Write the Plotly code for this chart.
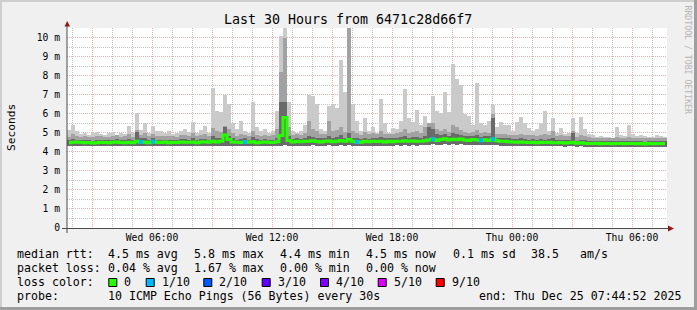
import plotly.graph_objects as go
import pandas as pd

# ---------------- data ----------------
start = pd.Timestamp("2025-12-24 01:44:52")
end = pd.Timestamp("2025-12-25 07:44:52")
step = pd.Timedelta(minutes=12)   # one column every 12 minutes

median_ms = [
    4.48, 4.50, 4.52, 4.50, 4.47, 4.49, 4.46, 4.48, 4.50, 4.49,
    4.47, 4.50, 4.52, 4.49, 4.48, 4.50, 4.47, 4.55, 4.52, 4.50,
    4.48, 4.53, 4.50, 4.49, 4.51, 4.48, 4.50, 4.49, 4.52, 4.50,
    4.50, 4.52, 4.48, 4.51, 4.53, 4.50, 4.55, 4.52, 4.55, 4.88,
    4.65, 4.52, 4.50, 4.49, 4.51, 4.50, 4.53, 4.48, 4.50, 4.52,
    4.50, 4.49, 4.53, 4.85, 5.80, 4.60, 4.52, 4.55, 4.53, 4.56,
    4.55, 4.58, 4.54, 4.52, 4.55, 4.57, 4.53, 4.55, 4.60, 4.55,
    4.65, 4.56, 4.52, 4.50, 4.55, 4.53, 4.56, 4.54, 4.55, 4.52,
    4.55, 4.53, 4.56, 4.55, 4.58, 4.55, 4.57, 4.55, 4.56, 4.58,
    4.62, 4.66, 4.60, 4.64, 4.68, 4.62, 4.66, 4.63, 4.67, 4.62,
    4.60, 4.65, 4.62, 4.60, 4.63, 4.60, 4.66, 4.58, 4.55, 4.56,
    4.53, 4.52, 4.50, 4.52, 4.50, 4.49, 4.50, 4.48, 4.50, 4.49,
    4.50, 4.48, 4.47, 4.49, 4.46, 4.47, 4.50, 4.45, 4.47, 4.45,
    4.44, 4.43, 4.45, 4.42, 4.44, 4.43, 4.42, 4.44, 4.43, 4.42,
    4.43, 4.44, 4.42, 4.43, 4.41, 4.43, 4.42, 4.44, 4.42, 4.43,
]

rtt_min = [
    4.30, 4.31, 4.29, 4.30, 4.28, 4.30, 4.29, 4.30, 4.31, 4.30,
    4.29, 4.30, 4.31, 4.30, 4.29, 4.30, 4.28, 4.30, 4.31, 4.30,
    4.30, 4.31, 4.29, 4.30, 4.30, 4.29, 4.30, 4.28, 4.30, 4.31,
    4.30, 4.31, 4.30, 4.29, 4.31, 4.30, 4.30, 4.32, 4.31, 4.33,
    4.31, 4.30, 4.29, 4.30, 4.31, 4.30, 4.30, 4.29, 4.30, 4.31,
    4.30, 4.29, 4.31, 4.33, 4.36, 4.32, 4.31, 4.30, 4.32, 4.31,
    4.33, 4.34, 4.32, 4.33, 4.32, 4.34, 4.33, 4.32, 4.34, 4.33,
    4.35, 4.33, 4.32, 4.31, 4.33, 4.32, 4.33, 4.32, 4.33, 4.31,
    4.33, 4.32, 4.34, 4.33, 4.35, 4.33, 4.34, 4.33, 4.34, 4.35,
    4.38, 4.40, 4.37, 4.38, 4.40, 4.37, 4.39, 4.38, 4.39, 4.37,
    4.36, 4.38, 4.37, 4.36, 4.37, 4.35, 4.38, 4.34, 4.33, 4.33,
    4.32, 4.31, 4.30, 4.31, 4.30, 4.29, 4.30, 4.29, 4.30, 4.29,
    4.30, 4.29, 4.28, 4.29, 4.27, 4.28, 4.29, 4.27, 4.28, 4.27,
    4.27, 4.26, 4.27, 4.26, 4.27, 4.26, 4.25, 4.26, 4.26, 4.25,
    4.26, 4.27, 4.25, 4.26, 4.25, 4.26, 4.25, 4.26, 4.25, 4.26,
]

rtt_p60 = [
    4.62, 4.68, 4.62, 4.60, 4.60, 4.62, 4.58, 4.63, 4.62, 4.60,
    4.60, 4.63, 4.65, 4.60, 4.60, 4.68, 4.60, 5.05, 4.70, 4.75,
    4.60, 4.70, 4.62, 4.62, 4.64, 4.60, 4.62, 4.60, 4.65, 4.66,
    4.63, 4.70, 4.60, 4.65, 4.68, 4.62, 4.85, 4.75, 4.72, 5.30,
    4.85, 4.70, 4.63, 4.65, 4.70, 4.62, 4.80, 4.65, 4.62, 4.66,
    4.62, 4.64, 4.70, 6.60, 6.60, 4.85, 4.68, 4.70, 4.66, 4.75,
    4.85, 4.80, 4.75, 4.70, 4.72, 4.85, 4.75, 4.78, 4.90, 4.75,
    5.00, 4.75, 4.70, 4.66, 4.74, 4.68, 4.72, 4.70, 4.80, 4.70,
    4.72, 4.70, 4.75, 4.78, 4.85, 4.75, 4.78, 4.80, 4.75, 4.85,
    5.30, 5.20, 4.95, 4.90, 4.95, 4.85, 5.00, 4.95, 4.90, 4.85,
    4.82, 4.85, 4.90, 4.80, 4.85, 4.82, 5.80, 4.75, 4.72, 4.74,
    4.70, 4.68, 4.66, 4.70, 4.65, 4.64, 4.65, 4.62, 4.66, 4.63,
    4.65, 4.70, 4.60, 4.64, 4.60, 4.62, 5.00, 4.58, 4.62, 4.60,
    4.58, 4.56, 4.58, 4.55, 4.57, 4.56, 4.55, 4.57, 4.56, 4.55,
    4.56, 4.57, 4.55, 4.56, 4.54, 4.56, 4.55, 4.57, 4.55, 4.56,
]

rtt_p80 = [
    4.80, 4.95, 4.85, 4.80, 4.82, 4.80, 4.78, 4.85, 4.82, 4.80,
    4.80, 4.85, 4.88, 4.80, 4.82, 4.95, 4.80, 5.15, 4.90, 5.00,
    4.82, 4.95, 4.85, 4.83, 4.85, 4.82, 4.84, 4.80, 4.86, 4.90,
    4.85, 5.00, 4.82, 4.90, 4.95, 4.85, 5.25, 5.10, 5.05, 5.35,
    5.20, 5.00, 4.85, 4.95, 4.90, 4.85, 5.10, 4.90, 4.85, 4.90,
    4.85, 4.88, 5.20, 8.20, 10.00, 5.30, 4.90, 4.92, 4.90, 5.00,
    5.60, 5.20, 5.10, 4.95, 4.95, 5.60, 5.10, 5.15, 5.30, 5.05,
    10.60, 5.10, 5.00, 4.90, 5.05, 4.95, 5.00, 4.92, 5.10, 4.95,
    4.95, 4.92, 5.00, 5.05, 5.20, 5.00, 5.05, 5.10, 5.00, 5.30,
    5.50, 5.50, 5.20, 5.10, 5.20, 5.05, 5.40, 5.30, 5.15, 5.05,
    5.00, 5.05, 5.15, 5.00, 5.05, 5.00, 6.00, 4.95, 4.92, 4.95,
    4.90, 4.88, 4.90, 4.95, 4.88, 4.86, 4.88, 4.85, 4.90, 4.95,
    4.88, 5.10, 4.85, 4.90, 4.82, 4.85, 5.10, 4.80, 4.88, 4.82,
    4.78, 4.75, 4.72, 4.74, 4.72, 4.70, 4.70, 4.80, 4.72, 4.70,
    4.78, 4.72, 4.70, 4.72, 4.70, 4.72, 4.70, 4.74, 4.70, 4.72,
]

rtt_max = [
    5.15, 5.40, 5.10, 4.95, 5.00, 4.90, 5.00, 5.05, 4.95, 4.90,
    5.00, 5.05, 4.90, 5.00, 4.95, 5.35, 5.00, 6.05, 5.15, 5.50,
    5.00, 5.35, 5.10, 5.10, 5.00, 5.10, 4.95, 5.00, 5.10, 5.20,
    5.05, 5.55, 5.00, 5.15, 5.35, 5.00, 7.35, 6.15, 6.10, 7.00,
    6.50, 5.50, 5.20, 5.60, 5.10, 5.00, 6.60, 5.30, 5.10, 5.20,
    5.00, 5.10, 6.15, 10.10, 10.60, 6.60, 5.10, 5.00, 5.10, 5.40,
    7.00, 6.95, 6.50, 5.20, 5.10, 6.40, 6.50, 6.30, 8.80, 7.15,
    10.60, 6.50, 5.60, 5.10, 5.75, 5.10, 5.30, 5.00, 6.75, 5.50,
    5.00, 5.25, 5.20, 5.60, 7.30, 5.80, 5.55, 6.20, 5.40, 5.90,
    5.35, 6.95, 6.15, 6.05, 7.15, 6.10, 8.60, 7.80, 7.50, 6.00,
    5.90, 5.40, 7.60, 5.50, 5.40, 5.60, 6.45, 5.30, 5.55, 5.40,
    5.40, 5.10, 5.55, 5.85, 5.50, 5.25, 5.10, 5.20, 5.50, 6.15,
    5.10, 5.75, 5.00, 5.25, 4.95, 5.00, 5.75, 5.00, 5.85, 5.20,
    4.95, 4.90, 4.80, 4.85, 4.80, 4.80, 4.75, 5.30, 4.90, 4.85,
    5.40, 4.95, 4.85, 4.90, 4.85, 4.80, 4.80, 4.90, 4.85, 4.80,
]

# columns where the median carried 1/10 packet loss
loss_cols = [18, 21, 44, 72, 91, 103, 106]

y_ticks = [0, 1, 2, 3, 4, 5, 6, 7, 8, 9, 10]
y_tick_text = ["0", "1 m", "2 m", "3 m", "4 m", "5 m", "6 m", "7 m", "8 m", "9 m", "10 m"]
y_minor_ticks = [0.5, 1.5, 2.5, 3.5, 4.5, 5.5, 6.5, 7.5, 8.5, 9.5, 10.5]
x_tick_times = ["2025-12-24 03:00", "2025-12-24 06:00", "2025-12-24 09:00", "2025-12-24 12:00",
                "2025-12-24 15:00", "2025-12-24 18:00", "2025-12-24 21:00", "2025-12-25 00:00",
                "2025-12-25 03:00", "2025-12-25 06:00"]
x_tick_text = ["", "Wed 06:00", "", "Wed 12:00", "", "Wed 18:00", "", "Thu 00:00", "", "Thu 06:00"]

loss_labels = ["0", "1/10", "2/10", "3/10", "4/10", "5/10", "9/10"]
loss_colors = ["#26ff00", "#00b8ff", "#0059ff", "#5e00ff", "#7e00ff", "#dd00ff", "#ff0000"]

rtt_stats = ["4.5 ms avg", "5.8 ms max", "4.4 ms min", "4.5 ms now", "0.1 ms sd", "38.5", "am/s"]
loss_stats = ["0.04 % avg", "1.67 % max", "0.00 % min", "0.00 % now"]
probe_text = "10 ICMP Echo Pings (56 Bytes) every 30s"
end_text = "end: Thu Dec 25 07:44:52 2025"
title_text = "Last 30 Hours from 6471c28d66f7"

# ---------------- layout helpers ----------------
W, H = 697, 310
PL, PR, PT, PB = 67, 667, 28, 228   # plot area in pixels
MONO = "DejaVu Sans Mono"


def px(x):
    return (x - PL) / (PR - PL)


def py(y):
    return (PB - y) / (PB - PT)


n = len(median_ms)
col_start = pd.date_range(start, periods=n, freq=step)
centers = col_start + step / 2
width_ms = step.total_seconds() * 1000 * 1.02

# hourly minor grid positions (those not already on the 3-hour major grid)
hours = pd.date_range("2025-12-24 02:00", "2025-12-25 07:00", freq="1h")
x_minor_ticks = [h for h in hours if h.hour % 3 != 0]

fig = go.Figure()


def smoke(top, color):
    fig.add_trace(go.Bar(
        x=centers, y=[t - b for t, b in zip(top, rtt_min)], base=rtt_min,
        width=width_ms, marker=dict(color=color, line=dict(width=0)),
        hoverinfo="skip", showlegend=False))


smoke(rtt_max, "#cacaca")
smoke(rtt_p80, "#a2a2a2")
smoke(rtt_p60, "#6a6a6a")

fig.add_trace(go.Scatter(
    x=centers, y=median_ms, mode="lines", line=dict(color="#26ff00", width=3, shape="hvh"),
    hoverinfo="skip", showlegend=False))
fig.add_trace(go.Scatter(
    x=[centers[i] for i in loss_cols], y=[median_ms[i] for i in loss_cols], mode="markers",
    marker=dict(symbol="square", size=4, color="#00b8ff", line=dict(width=0)),
    hoverinfo="skip", showlegend=False))

grid_major = "rgba(222,80,80,0.45)"
grid_minor = "rgba(143,143,143,0.55)"
tickfont = dict(family=MONO, size=9.7, color="#000")

fig.update_layout(
    width=W, height=H,
    margin=dict(l=PL, r=W - PR, t=PT, b=H - PB, pad=0),
    paper_bgcolor="#f0f0f0", plot_bgcolor="#ffffff",
    barmode="overlay", bargap=0, showlegend=False,
    font=dict(family=MONO, color="#000000"),
    xaxis=dict(
        type="date", range=[start, end], tickvals=x_tick_times, ticktext=x_tick_text,
        showgrid=True, gridcolor=grid_major, griddash="1px,1px", gridwidth=1,
        zeroline=False, showline=False, ticks="", tickfont=tickfont, ticklabelstandoff=2,
    ),
    xaxis2=dict(
        type="date", range=[start, end], overlaying="x", anchor="y", side="bottom",
        tickvals=x_minor_ticks, showticklabels=False, ticks="",
        showgrid=True, gridcolor=grid_minor, griddash="1px,1px", gridwidth=1,
        zeroline=False, showline=False,
    ),
    yaxis=dict(
        range=[0, 10.5], tickvals=y_ticks, ticktext=y_tick_text,
        showgrid=True, gridcolor=grid_major, griddash="1px,1px", gridwidth=1,
        zeroline=False, showline=False, ticks="", tickfont=tickfont, ticklabelstandoff=6,
    ),
    yaxis2=dict(
        range=[0, 10.5], overlaying="y", anchor="x", side="left",
        tickvals=y_minor_ticks, showticklabels=False, ticks="",
        showgrid=True, gridcolor=grid_minor, griddash="1px,1px", gridwidth=1,
        zeroline=False, showline=False,
    ),
)
# an invisible trace so the minor-grid axes are laid out
fig.add_trace(go.Scatter(x=[start], y=[0], xaxis="x2", yaxis="y2", mode="markers",
                         marker=dict(opacity=0), hoverinfo="skip", showlegend=False))

shapes = []
# bevelled frame
shapes.append(dict(type="rect", xref="paper", yref="paper", x0=px(0), x1=px(W), y0=py(0), y1=py(2),
                   fillcolor="#cfcfcf", line=dict(width=0)))
shapes.append(dict(type="rect", xref="paper", yref="paper", x0=px(0), x1=px(2), y0=py(0), y1=py(H),
                   fillcolor="#cfcfcf", line=dict(width=0)))
shapes.append(dict(type="rect", xref="paper", yref="paper", x0=px(0), x1=px(W), y0=py(H - 3), y1=py(H),
                   fillcolor="#9e9e9e", line=dict(width=0)))
shapes.append(dict(type="rect", xref="paper", yref="paper", x0=px(W - 3), x1=px(W), y0=py(0), y1=py(H),
                   fillcolor="#9e9e9e", line=dict(width=0)))
# axis lines
axis_col = "#4a4a4a"
shapes.append(dict(type="line", xref="paper", yref="paper", x0=px(62), x1=px(668), y0=py(228.5), y1=py(228.5),
                   line=dict(color=axis_col, width=1), layer="above"))
shapes.append(dict(type="line", xref="paper", yref="paper", x0=px(67), x1=px(67), y0=py(233), y1=py(24),
                   line=dict(color=axis_col, width=1), layer="above"))
arrow_col = "#8b1a1a"
shapes.append(dict(type="path", xref="paper", yref="paper",
                   path=f"M {px(67.2)},{py(21)} L {px(64.5)},{py(26.5)} L {px(70)},{py(26.5)} Z",
                   fillcolor=arrow_col, line=dict(width=0), layer="above"))
shapes.append(dict(type="path", xref="paper", yref="paper",
                   path=f"M {px(674)},{py(228.5)} L {px(668)},{py(225.5)} L {px(668)},{py(231.5)} Z",
                   fillcolor=arrow_col, line=dict(width=0), layer="above"))

annotations = []


def text(t, x, y, size=11.6, color="#000000", **kw):
    d = dict(text=t, x=px(x), y=py(y), xref="paper", yref="paper", showarrow=False,
             xanchor="left", yanchor="middle", font=dict(family=MONO, size=size, color=color),
             borderpad=0)
    d.update(kw)
    annotations.append(d)


text(title_text, 348, 20, size=13.3, xanchor="center")
text("Seconds", 11, 128, size=11.2, xanchor="center", textangle=-90)
text("RRDTOOL / TOBI OETIKER", 687, 4, size=8.2, color="#b4b4b4", xanchor="center", yanchor="top",
     textangle=90)

row_y = [254.3, 268.3, 282.3, 296.0]
text("median rtt:", 16, row_y[0])
for t, x in zip(rtt_stats, [107.3, 193.3, 279.3, 365, 451.7, 530, 579.3]):
    text(t, x, row_y[0])
text("packet loss:", 16, row_y[1])
for t, x in zip(loss_stats, [107.3, 193.3, 279.3, 365]):
    text(t, x, row_y[1])
text("loss color:", 16, row_y[2])
box_x = [108.3, 145.7, 203.3, 261.7, 320.0, 377.7, 435.7]
for lbl, col, bx in zip(loss_labels, loss_colors, box_x):
    shapes.append(dict(type="rect", xref="paper", yref="paper", x0=px(bx + 0.5), x1=px(bx + 8.5),
                       y0=py(278.5), y1=py(286.5), fillcolor=col, line=dict(color="#000000", width=1)))
    text(lbl, bx + 15, row_y[2])
text("probe:", 16, row_y[3])
text(probe_text, 107.3, row_y[3])
text(end_text, 478.3, row_y[3])

fig.update_layout(shapes=shapes, annotations=annotations)
fig.write_html("out.html")
